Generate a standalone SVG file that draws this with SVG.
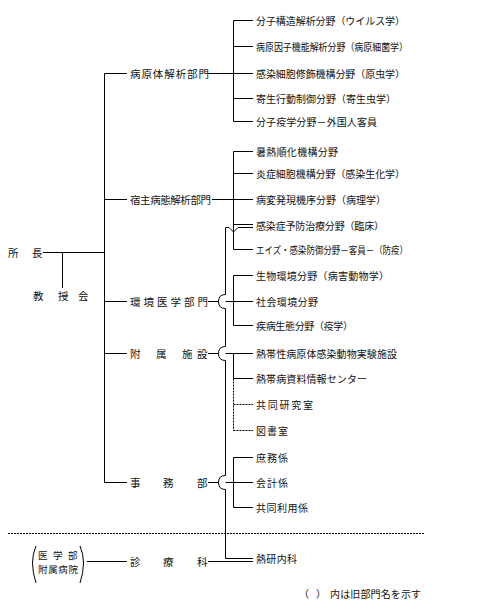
<svg xmlns="http://www.w3.org/2000/svg" width="484" height="613" viewBox="0 0 484 613">
<style>
text{font-family:"Noto Sans CJK JP","Noto Sans CJK SC",sans-serif;font-size:10px;fill:#111;dominant-baseline:central}
.l{font-size:10.5px}
.s{font-size:9.5px}
.ln{stroke:#000;stroke-width:1;fill:none}
.dt{stroke:#000;stroke-width:1;fill:none;stroke-dasharray:2,1}
</style>
<rect width="484" height="613" fill="#fff"/>
<g id="connectors">
<path class="ln" d="M104.5,73.5V482.5"/>
<path class="ln" d="M43,252.5H104.5M62.5,252.5V288"/>
<path class="ln" d="M104.5,73.5H127M208,73.5H233.5M233.5,20.5V121.5M233.5,20.5H253M233.5,46.5H253M233.5,73.5H253M233.5,98.5H253M233.5,121.5H253"/>
<path class="ln" d="M104.5,199.5H127M212,199.5H233.5M233.5,151.5V249.5M233.5,151.5H253M233.5,173.5H253M233.5,199.5H253M233.5,224.5H253M233.5,249.5H253"/>
<path class="ln" d="M104.5,301.5H127M208,301.5H218.5M225.5,301.5H233.5M233.5,275.5V325.5M233.5,275.5H253M233.5,301.5H253M233.5,325.5H253"/>
<path class="ln" d="M104.5,353.5H127M208,353.5H218.5M225.5,353.5H253M233.5,353.5V378.5M233.5,378.5H253"/>
<path class="dt" d="M233.5,378.5V430.5M233.5,404.5H253M233.5,430.5H253"/>
<path class="ln" d="M104.5,482.5H127M208,482.5H218.5M225.5,482.5H253M233.5,457.5V507.5M233.5,457.5H253M233.5,507.5H253"/>
<path class="ln" d="M253,227.5H238L233.5,232L229,227.5H225.5V294.5Q218.5,294.5 218.5,301.5Q218.5,308.5 225.5,308.5V346.5Q218.5,346.5 218.5,353.5Q218.5,360.5 225.5,360.5V475.5Q218.5,475.5 218.5,482.5Q218.5,489.5 225.5,489.5V558.5H253"/>
<path class="ln" d="M87,561.5H127M208,561.5H253"/>
<path class="dt" d="M8,533.5H424"/>
<path class="ln" d="M36,546Q29,561.5 36,583M80,546Q87,561.5 80,583"/>
</g>
<g id="shochou"><text class="l" x="8" y="252.5">所</text><text class="l" x="32" y="252.5">長</text></g>
<g id="kyoujukai"><text class="l" x="33" y="295">教</text><text class="l" x="58" y="295">授</text><text class="l" x="78" y="295">会</text></g>
<g id="byougentai"><text class="l" x="130" y="73.5" textLength="79">病原体解析部門</text></g>
<g id="shukushu"><text class="l" x="130" y="199.5" textLength="81">宿主病態解析部門</text></g>
<g id="kankyou"><text class="l" x="130" y="301.5" textLength="78">環境医学部門</text></g>
<g id="fuzoku"><text class="l" x="130" y="353.5">附</text><text class="l" x="156" y="353.5">属</text><text class="l" x="182" y="353.5">施</text><text class="l" x="197" y="353.5">設</text></g>
<g id="jimubu"><text class="l" x="130" y="482.5">事</text><text class="l" x="163" y="482.5">務</text><text class="l" x="197" y="482.5">部</text></g>
<g id="shinryouka"><text class="l" x="130" y="561.5">診</text><text class="l" x="163" y="561.5">療</text><text class="l" x="197" y="561.5">科</text></g>
<g id="fuzokubyouin"><text class="s" x="38" y="555">医</text><text class="s" x="53" y="555">学</text><text class="s" x="68" y="555">部</text><text class="s" x="38" y="569" textLength="40">附属病院</text></g>
<g id="n1"><text x="256" y="20.5" textLength="149">分子構造解析分野（ウイルス学）</text></g>
<g id="n2"><text x="256" y="46.5" textLength="152" lengthAdjust="spacingAndGlyphs">病原因子機能解析分野（病原細菌学）</text></g>
<g id="n3"><text x="256" y="73.5" textLength="149">感染細胞修飾機構分野（原虫学）</text></g>
<g id="n4"><text x="256" y="98.5" textLength="140">寄生行動制御分野（寄生虫学）</text></g>
<g id="n5"><text x="256" y="121.5" textLength="121">分子疫学分野－外国人客員</text></g>
<g id="n6"><text x="256" y="151.5" textLength="82">暑熱順化機構分野</text></g>
<g id="n7"><text x="256" y="173.5" textLength="149">炎症細胞機構分野（感染生化学）</text></g>
<g id="n8"><text x="256" y="199.5" textLength="130">病変発現機序分野（病理学）</text></g>
<g id="n9"><text x="256" y="225.5" textLength="128">感染症予防治療分野（臨床）</text></g>
<g id="n10"><text x="256" y="249.5" textLength="152" lengthAdjust="spacingAndGlyphs">エイズ・感染防御分野－客員－（防疫）</text></g>
<g id="n11"><text x="256" y="275.5" textLength="133">生物環境分野（病害動物学）</text></g>
<g id="n12"><text x="256" y="301.5" textLength="62">社会環境分野</text></g>
<g id="n13"><text x="256" y="325.5" textLength="97">疾病生態分野（疫学）</text></g>
<g id="n14"><text x="256" y="353.5" textLength="141">熱帯性病原体感染動物実験施設</text></g>
<g id="n15"><text x="256" y="378.5" textLength="111">熱帯病資料情報センター</text></g>
<g id="n16"><text x="256" y="404.5" textLength="57">共同研究室</text></g>
<g id="n17"><text x="256" y="430.5" textLength="32">図書室</text></g>
<g id="n18"><text x="256" y="457.5" textLength="32">庶務係</text></g>
<g id="n19"><text x="256" y="482.5" textLength="32">会計係</text></g>
<g id="n20"><text x="256" y="507.5" textLength="52">共同利用係</text></g>
<g id="n21"><text x="256" y="558.5" textLength="41">熱研内科</text></g>
<g id="note"><text x="299" y="593">（</text><text x="316" y="593">）</text><text x="330" y="593" textLength="91">内は旧部門名を示す</text></g>
</svg>
